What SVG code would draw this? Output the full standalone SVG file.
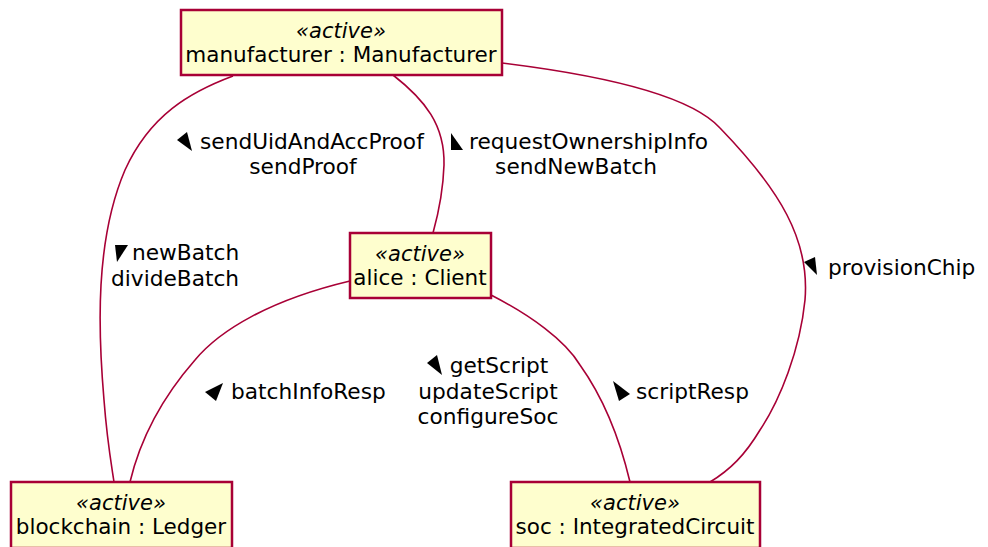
<svg xmlns="http://www.w3.org/2000/svg" width="988" height="547" viewBox="0 0 988 547">
  <style>
    .box { fill: #FEFECE; stroke: #A80036; stroke-width: 2.5; }
    .link { fill: none; stroke: #A80036; stroke-width: 1.6; }
    .st { font-family: "DejaVu Sans", sans-serif; font-size: 21px; font-style: italic; text-anchor: middle; fill: #000; }
    .nm { font-family: "DejaVu Sans", sans-serif; font-size: 21.5px; text-anchor: middle; fill: #000; }
    .lb { font-family: "DejaVu Sans", sans-serif; font-size: 21.7px; fill: #000; }
    .lc { font-family: "DejaVu Sans", sans-serif; font-size: 21.7px; fill: #000; text-anchor: middle; }
    .dir { fill: #000; }
  </style>
  <rect width="988" height="547" fill="#FFFFFF"/>

  <g id="connectors">
    <!-- manufacturer - blockchain -->
    <path class="link" d="M233,76 C190,92 150,115 125,170 C95,240 98,330 104,400 C107,440 111,462 114,482"/>
    <!-- manufacturer - alice -->
    <path class="link" d="M393,75 C425,100 445,125 444,165 C443,195 438,215 433,233"/>
    <!-- manufacturer - soc -->
    <path class="link" d="M502,63 C600,75 690,95 720,128 C780,190 810,240 805,300 C800,350 780,400 760,430 C745,455 730,470 710,482"/>
    <!-- alice - blockchain -->
    <path class="link" d="M350,281 C270,300 220,330 195,360 C160,400 140,440 130,482"/>
    <!-- alice - soc -->
    <path class="link" d="M491,295 C530,315 565,340 580,365 C605,400 620,440 630,482"/>

    <!-- direction markers -->
    <polygon class="dir" points="177,140 187,132 192,151"/>
    <polygon class="dir" points="115,245 128,245 117,262"/>
    <polygon class="dir" points="451,133 451,150 463,150"/>
    <polygon class="dir" points="205,392 223,383 216,401"/>
    <polygon class="dir" points="427,363 437,355 442,375"/>
    <polygon class="dir" points="613,381 630,394 619,401"/>
    <polygon class="dir" points="804,262 815,257 817,275"/>

    <!-- labels -->
    <text class="lb" x="200" y="149">sendUidAndAccProof</text>
    <text class="lc" x="303" y="174">sendProof</text>
    <text class="lb" x="469" y="149">requestOwnershipInfo</text>
    <text class="lc" x="576" y="174">sendNewBatch</text>
    <text class="lb" x="132" y="260">newBatch</text>
    <text class="lb" x="111" y="286">divideBatch</text>
    <text class="lb" x="231" y="399">batchInfoResp</text>
    <text class="lc" x="499" y="373">getScript</text>
    <text class="lc" x="488" y="399">updateScript</text>
    <text class="lc" x="488" y="424">configureSoc</text>
    <text class="lb" x="636" y="399">scriptResp</text>
    <text class="lb" x="828" y="275">provisionChip</text>
  </g>

  <g id="manufacturer">
    <rect class="box" x="181" y="10" width="321" height="65"/>
    <text class="st" x="341" y="38">«active»</text>
    <text class="nm" x="341" y="62">manufacturer : Manufacturer</text>
  </g>

  <g id="alice">
    <rect class="box" x="350" y="233" width="141" height="65"/>
    <text class="st" x="420" y="261">«active»</text>
    <text class="nm" x="420" y="285">alice : Client</text>
  </g>

  <g id="blockchain">
    <rect class="box" x="11" y="482" width="221" height="66"/>
    <text class="st" x="121" y="510">«active»</text>
    <text class="nm" x="121" y="534">blockchain : Ledger</text>
  </g>

  <g id="soc">
    <rect class="box" x="511" y="482" width="249" height="66"/>
    <text class="st" x="635" y="510">«active»</text>
    <text class="nm" x="635" y="534">soc : IntegratedCircuit</text>
  </g>
</svg>
